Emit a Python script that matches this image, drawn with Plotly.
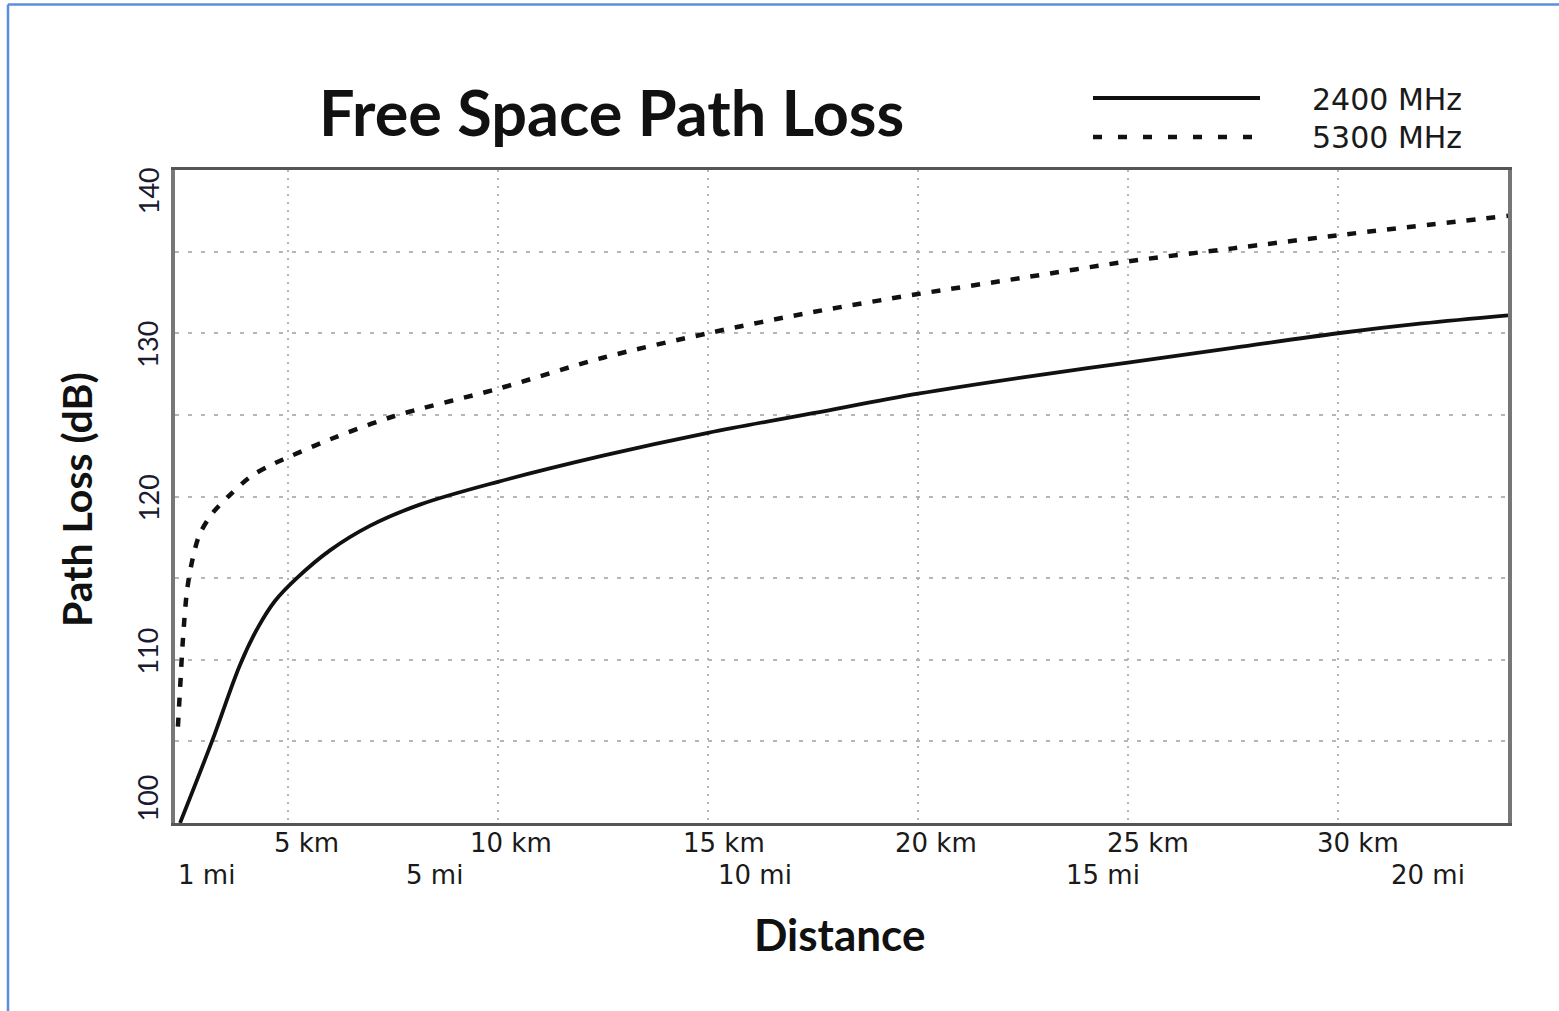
import plotly.graph_objects as go

# ---- data (distance axis in km units, path loss in dB) ----
dist_2400 = [2.43, 3.19, 3.86, 4.29, 4.69, 5.21, 6.00, 6.95, 8.14, 10.0, 12.5, 15.0, 17.5, 20.0,
             22.5, 25.0, 27.5, 30.0, 32.0, 34.05]
loss_2400 = [100.0, 105.0, 109.7, 112.0, 113.6, 115.0, 116.7, 118.2, 119.5, 120.9, 122.5, 123.9, 125.1, 126.3,
             127.3, 128.2, 129.1, 130.0, 130.6, 131.1]

dist_5300 = [2.38, 2.43, 2.50, 2.60, 2.74, 2.90, 3.21, 3.62, 4.10, 4.57, 5.0, 6.0, 7.5,
             10.0, 12.5, 15.0, 17.5, 20.0, 22.5, 25.0, 27.5, 30.0, 34.05]
loss_5300 = [105.9, 108.2, 111.3, 114.3, 116.3, 117.7, 119.0, 120.1, 121.2, 121.9, 122.4, 123.5, 124.9,
             126.6, 128.5, 130.0, 131.3, 132.4, 133.4, 134.4, 135.2, 136.0, 137.2]

series_names = ["2400 MHz", "5300 MHz"]

x_grid = [5, 10, 15, 20, 25, 30]
km_label_pos = [5.45, 10.31, 15.38, 20.43, 25.48, 30.48]
km_labels = ["5 km", "10 km", "15 km", "20 km", "25 km", "30 km"]
mi_label_pos = [3.07, 8.48, 16.12, 24.40, 32.14]
mi_labels = ["1 mi", "5 mi", "10 mi", "15 mi", "20 mi"]

y_grid = [100, 105, 110, 115, 120, 125, 130, 135, 140]
y_label_pos = [101.5, 110.5, 119.9, 129.3, 138.7]
y_labels = ["100", "110", "120", "130", "140"]

X_RANGE = [2.31, 34.05]
Y_RANGE = [100, 140]

FONT = "Lato"
LABEL_FONT = "DejaVu Sans"

fig = go.Figure()
fig.add_trace(go.Scatter(x=dist_2400, y=loss_2400, mode="lines", name=series_names[0],
                         line=dict(color="#111111", width=3.8, shape="spline", smoothing=1.0),
                         showlegend=False))
fig.add_trace(go.Scatter(x=dist_5300, y=loss_5300, mode="lines", name=series_names[1],
                         line=dict(color="#111111", width=4.5, dash="9px,11px", shape="spline", smoothing=0.9),
                         showlegend=False))

# plot-area pixel geometry for paper-coordinate conversions
L, R, T, B = 175, 1508, 170, 823
W, H = 1559, 1011
def px(xp):
    return (xp - L) / (R - L)
def py(yp):
    return (B - yp) / (B - T)

annotations = []
for xv, t in zip(km_label_pos, km_labels):
    annotations.append(dict(x=xv, y=py(843), xref="x", yref="paper", text=t, showarrow=False,
                            font=dict(family=LABEL_FONT, size=26, color="#1a1a1a"),
                            xanchor="center", yanchor="middle"))
for xv, t in zip(mi_label_pos, mi_labels):
    annotations.append(dict(x=xv, y=py(875), xref="x", yref="paper", text=t, showarrow=False,
                            font=dict(family=LABEL_FONT, size=26, color="#1a1a1a"),
                            xanchor="center", yanchor="middle"))
for yv, t in zip(y_label_pos, y_labels):
    annotations.append(dict(x=px(148), y=yv, xref="paper", yref="y", text=t, showarrow=False,
                            textangle=-90, font=dict(family=FONT, size=27, color="#1a1a30"),
                            xanchor="center", yanchor="middle"))
# title
annotations.append(dict(x=px(611), y=py(111), xref="paper", yref="paper", text="<b>Free Space Path Loss</b>",
                        showarrow=False, font=dict(family=FONT, size=63, color="#111111"),
                        xanchor="center", yanchor="middle"))
# axis titles
annotations.append(dict(x=px(839), y=py(934), xref="paper", yref="paper", text="<b>Distance</b>",
                        showarrow=False, font=dict(family=FONT, size=44, color="#111111"),
                        xanchor="center", yanchor="middle"))
annotations.append(dict(x=px(76), y=py(499), xref="paper", yref="paper", text="<b>Path Loss (dB)</b>",
                        showarrow=False, textangle=-90, font=dict(family=FONT, size=41, color="#111111"),
                        xanchor="center", yanchor="middle"))
# legend texts
for yy, t in zip([99, 137], series_names):
    annotations.append(dict(x=px(1387), y=py(yy), xref="paper", yref="paper", text=t,
                            showarrow=False, font=dict(family=LABEL_FONT, size=30, color="#1a1a1a"),
                            xanchor="center", yanchor="middle"))

shapes = [
    # legend samples
    dict(type="line", xref="paper", yref="paper", x0=px(1093), x1=px(1260), y0=py(98), y1=py(98),
         line=dict(color="#111111", width=4)),
    dict(type="line", xref="paper", yref="paper", x0=px(1093), x1=px(1260), y0=py(137), y1=py(137),
         line=dict(color="#111111", width=4.5, dash="9px,16px")),
    # page border (blue)
    dict(type="line", xref="paper", yref="paper", x0=px(8), x1=px(1559), y0=py(4.5), y1=py(4.5),
         line=dict(color="#5a8fdc", width=2.5)),
    dict(type="line", xref="paper", yref="paper", x0=px(8), x1=px(8), y0=py(4.5), y1=py(1011),
         line=dict(color="#5a8fdc", width=2.5)),
]

fig.update_layout(
    width=W, height=H,
    margin=dict(l=L, r=W - R, t=T, b=H - B),
    paper_bgcolor="white", plot_bgcolor="white",
    annotations=annotations, shapes=shapes,
    xaxis=dict(range=X_RANGE, tickvals=x_grid, showticklabels=False, ticks="",
               showgrid=True, gridcolor="#b5b5b5", gridwidth=1.5, griddash="2px,6px",
               showline=True, linecolor="#555555", linewidth=3, mirror=True, zeroline=False),
    yaxis=dict(range=Y_RANGE, tickvals=y_grid, showticklabels=False, ticks="",
               showgrid=True, gridcolor="#b5b5b5", gridwidth=1.5, griddash="4px,9px",
               showline=True, linecolor="#777777", linewidth=3.5, mirror=True, zeroline=False),
)

fig.write_html("out.html", config={"displayModeBar": False},
               post_script="document.body.style.margin='0px';")
